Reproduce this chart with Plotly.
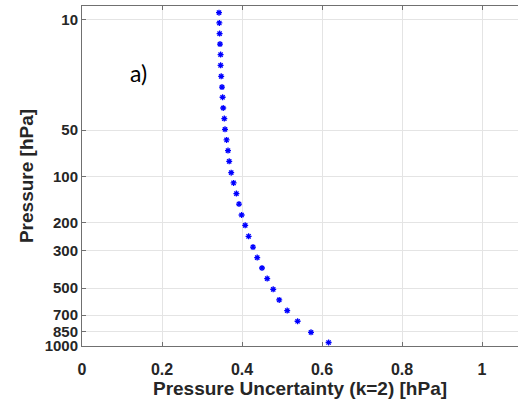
import math
import plotly.graph_objects as go

# Data (bottom to top)
height_km = [0.42, 1.39, 2.44, 3.45, 4.46, 5.47, 6.49, 7.49, 8.48, 9.48,
             10.50, 11.54, 12.52, 13.56, 14.55, 15.56, 16.54, 17.61, 18.63, 19.64,
             20.65, 21.67, 22.67, 23.69, 24.66, 25.68, 26.72, 27.74, 28.74, 29.73,
             30.74, 31.72]
uncertainty = [0.6165, 0.5725, 0.539, 0.513, 0.493, 0.478, 0.463, 0.450, 0.438, 0.4275,
               0.4165, 0.408, 0.399, 0.3925, 0.386, 0.379, 0.373, 0.368, 0.365, 0.3615,
               0.3575, 0.3558, 0.353, 0.3515, 0.350, 0.348, 0.3465, 0.3465, 0.345, 0.344,
               0.3433, 0.3425]
pressure_ticks = [10, 50, 100, 200, 300, 500, 700, 850, 1000]
x_ticks = [0, 0.2, 0.4, 0.6, 0.8, 1]


def isa_height_km(p):
    """Standard-atmosphere height (km) of a pressure level (hPa)."""
    if p >= 226.32:
        return 44.3308 * (1 - (p / 1013.25) ** 0.190263)
    if p >= 54.7489:
        return 11 + 6.3416 * math.log(226.32 / p)
    return 20 + 216.65 * ((p / 54.7489) ** (-1 / 34.1632) - 1)


tick_heights = [isa_height_km(p) for p in pressure_ticks]

fig = go.Figure()
fig.add_trace(go.Scatter(
    x=uncertainty, y=height_km, mode="markers",
    marker=dict(symbol="asterisk-open", size=5, color="#0000ff",
                line=dict(color="#0000ff", width=1.3)),
    showlegend=False,
))

tick_font = dict(family="Liberation Sans", size=15, color="#262626")

fig.update_layout(
    width=518, height=403,
    margin=dict(l=82, r=0, t=6, b=57),
    paper_bgcolor="white", plot_bgcolor="white",
    font=dict(family="Liberation Sans", color="#262626"),
    xaxis=dict(
        range=[0, 1.09], tickvals=x_ticks,
        ticktext=["<b>%g</b>" % v for v in x_ticks],
        tickfont=dict(family="Liberation Sans", size=16, color="#262626"),
        ticklabelstandoff=9,
        showgrid=True, gridcolor="#e4e4e4", gridwidth=1, zeroline=False,
        showline=True, linecolor="#707070", linewidth=1, mirror="ticks",
        ticks="inside", ticklen=4, tickcolor="#707070",
        title=dict(text="<b>Pressure Uncertainty (k=2) [hPa]</b>",
                   font=dict(family="Liberation Sans", size=19, color="#262626"),
                   standoff=2),
    ),
    yaxis=dict(
        range=[0.09, 32.35], tickvals=tick_heights,
        ticktext=["<b>%d</b>" % p for p in pressure_ticks],
        tickfont=tick_font,
        showgrid=True, gridcolor="#e4e4e4", gridwidth=1, zeroline=False,
        showline=True, linecolor="#707070", linewidth=1, mirror=False,
        ticks="inside", ticklen=4, tickcolor="#707070",
        title=dict(text="<b>Pressure [hPa]</b>",
                   font=dict(family="Liberation Sans", size=19, color="#262626"),
                   standoff=5),
    ),
    annotations=[dict(
        text="a)", x=0.13, y=0.803, xref="paper", yref="paper",
        xanchor="center", yanchor="middle", showarrow=False,
        font=dict(family="Lato", size=23, color="black"),
    )],
)

fig.write_html("out.html")
